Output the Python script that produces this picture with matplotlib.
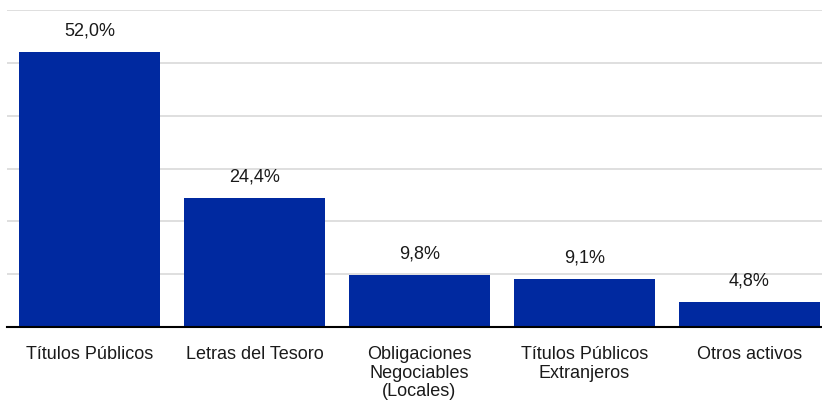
import matplotlib.pyplot as plt

categories = ['Títulos Públicos', 'Letras del Tesoro', 'Obligaciones\nNegociables\n(Locales)',
              'Títulos Públicos\nExtranjeros', 'Otros activos']
values = [52.0, 24.4, 9.8, 9.1, 4.8]
labels = ['52,0%', '24,4%', '9,8%', '9,1%', '4,8%']

plt.rcParams['font.family'] = ['Liberation Sans', 'DejaVu Sans']

fig = plt.figure(figsize=(8.22, 4.0), dpi=100)
ax = fig.add_axes([7 / 822, 73 / 400, 815 / 822, 317 / 400])

x = range(len(categories))
bars = ax.bar(x, values, width=0.855, color='#0029A0', zorder=3)
for b, lab in zip(bars, labels):
    ax.annotate(lab, (b.get_x() + b.get_width() / 2, b.get_height()),
                xytext=(0, 9), textcoords='offset points',
                ha='center', va='bottom', fontsize=13, color='#1a1a1a')

ax.set_xlim(-0.5, 4.44)
ax.set_ylim(0, 60)
ax.set_yticks(range(0, 61, 10))
ax.yaxis.grid(True, color='#d9d9d9', linewidth=1.2, zorder=0)
ax.tick_params(axis='y', left=False, labelleft=False)
ax.tick_params(axis='x', length=0, pad=14, labelsize=13, labelcolor='#1a1a1a')
ax.set_xticks(list(x))
ax.set_xticklabels(categories, va='top', linespacing=1.1)
for s in ['top', 'right', 'left']:
    ax.spines[s].set_visible(False)
ax.spines['bottom'].set_color('black')
ax.spines['bottom'].set_linewidth(1.5)
ax.spines['bottom'].set_zorder(4)

fig.savefig('out.png', dpi=100)
